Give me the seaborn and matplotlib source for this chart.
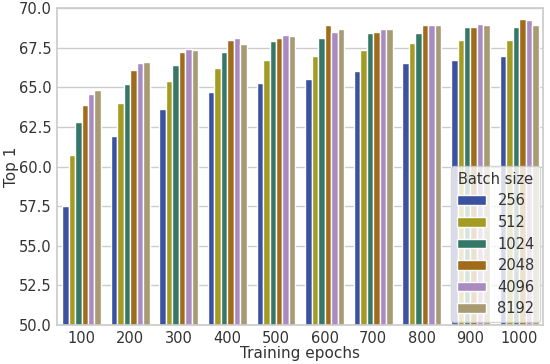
import matplotlib
matplotlib.use('agg')

import matplotlib.pyplot as plt
import pandas as pd
import seaborn as sns

epochs = [100, 200, 300, 400, 500, 600, 700, 800, 900, 1000]
batch_sizes = [256, 512, 1024, 2048, 4096, 8192]

# Top-1 accuracy, one list per batch size, ordered by epochs
top1_256 = [57.5, 61.9, 63.6, 64.7, 65.3, 65.5, 66.0, 66.5, 66.7, 67.0]
top1_512 = [60.7, 64.0, 65.4, 66.2, 66.7, 67.0, 67.35, 67.8, 68.0, 68.0]
top1_1024 = [62.8, 65.2, 66.4, 67.2, 67.9, 68.1, 68.4, 68.4, 68.8, 68.8]
top1_2048 = [63.9, 66.1, 67.2, 68.0, 68.1, 68.9, 68.5, 68.9, 68.8, 69.3]
top1_4096 = [64.6, 66.5, 67.4, 68.1, 68.3, 68.5, 68.7, 68.9, 69.0, 69.25]
top1_8192 = [64.8, 66.6, 67.35, 67.7, 68.25, 68.7, 68.7, 68.9, 68.95, 68.9]

colors = ['#3b52a0', '#a39b22', '#367868', '#a06c1a', '#a98bc2', '#a89a72']

series = [top1_256, top1_512, top1_1024, top1_2048, top1_4096, top1_8192]
rows = []
for bs, vals in zip(batch_sizes, series):
    for ep, v in zip(epochs, vals):
        rows.append({'Training epochs': ep, 'Batch size': bs, 'Top 1': v})
df = pd.DataFrame(rows)

sns.set_theme(style='whitegrid')
plt.rcParams['font.family'] = ['DejaVu Sans']

fig, ax = plt.subplots(figsize=(5.5, 3.64), dpi=100)
sns.barplot(data=df, x='Training epochs', y='Top 1', hue='Batch size',
            palette=colors, saturation=1, ax=ax)
ax.set_ylim(50, 70)
ax.set_yticks([50, 52.5, 55, 57.5, 60, 62.5, 65, 67.5, 70])
ax.set_yticklabels([f'{t:.1f}' for t in ax.get_yticks()])
ax.tick_params(labelsize=10.5, colors='.2', length=0, pad=4)
ax.set_xlabel('Training epochs', fontsize=11, color='.2', labelpad=0)
ax.set_ylabel('Top 1', fontsize=11, color='.2', labelpad=0)
leg = ax.legend(title='Batch size', loc='lower right', fontsize=10.5,
                title_fontsize=10.5, framealpha=0.8, handlelength=2.0,
                handleheight=0.65, borderaxespad=0.2, labelspacing=0.45)
for t in leg.get_texts():
    t.set_color('.2')
leg.get_title().set_color('.2')

fig.subplots_adjust(left=0.104, right=0.988, top=0.978, bottom=0.107)
fig.savefig('out.png')
